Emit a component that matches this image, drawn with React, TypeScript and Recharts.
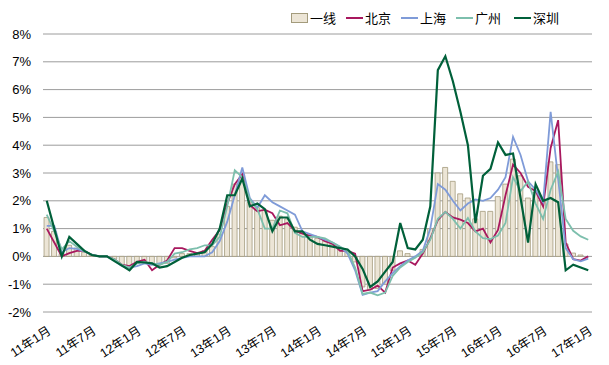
import React from 'react';
import { ComposedChart, Bar, Line, XAxis, YAxis, CartesianGrid } from 'recharts';

const months: string[] = [
  '11年1月','11年2月','11年3月','11年4月','11年5月','11年6月','11年7月','11年8月','11年9月','11年10月','11年11月','11年12月',
  '12年1月','12年2月','12年3月','12年4月','12年5月','12年6月','12年7月','12年8月','12年9月','12年10月','12年11月','12年12月',
  '13年1月','13年2月','13年3月','13年4月','13年5月','13年6月','13年7月','13年8月','13年9月','13年10月','13年11月','13年12月',
  '14年1月','14年2月','14年3月','14年4月','14年5月','14年6月','14年7月','14年8月','14年9月','14年10月','14年11月','14年12月',
  '15年1月','15年2月','15年3月','15年4月','15年5月','15年6月','15年7月','15年8月','15年9月','15年10月','15年11月','15年12月',
  '16年1月','16年2月','16年3月','16年4月','16年5月','16年6月','16年7月','16年8月','16年9月','16年10月','16年11月','16年12月',
  '17年1月',
];

const tier1: number[] = [
  1.4, 0.9, 0.1, 0.4, 0.3, 0.15, 0.05, 0.0, 0.0, -0.1, -0.3, -0.4,
  -0.25, -0.2, -0.3, -0.3, -0.25, -0.05, 0.1, 0.1, 0.1, 0.2, 0.35, 0.8,
  1.8, 2.6, 2.95, 1.95, 1.75, 1.65, 1.3, 1.45, 1.35, 1.05, 0.85, 0.7,
  0.65, 0.55, 0.45, 0.3, 0.2, -0.2, -1.1, -1.2, -1.15, -1.0, -0.5, 0.2,
  0.1, 0.0, 0.25, 1.0, 3.0, 3.2, 2.7, 2.25, 2.1, 1.35, 1.62, 1.62,
  2.15, 2.6, 3.5, 2.9, 2.1, 2.3, 2.0, 3.4, 3.3, 0.45, 0.12, 0.05,
  0.0,
];

const beijing: number[] = [
  1.0, 0.5, 0.0, 0.12, 0.2, 0.2, 0.05, 0.0, 0.0, -0.1, -0.3, -0.35,
  -0.2, -0.12, -0.5, -0.3, -0.15, 0.3, 0.3, 0.2, 0.12, 0.2, 0.6, 0.95,
  1.9, 2.6, 2.95, 1.85, 1.62, 1.68, 1.55, 1.12, 1.2, 0.92, 0.82, 0.75,
  0.7, 0.55, 0.45, 0.2, 0.2, 0.1, -1.25, -1.2, -1.05, -1.3, -0.4, -0.25,
  -0.15, -0.3, 0.1, 0.65, 1.3, 1.6, 1.4, 1.32, 1.2, 0.9, 1.0, 0.5,
  0.95, 2.2, 3.3, 3.0, 2.5, 2.35, 1.8, 3.9, 4.9, 0.5, -0.1, -0.15,
  0.0,
];

const shanghai: number[] = [
  1.1, 1.1, 0.15, 0.3, 0.27, 0.18, 0.06, 0.0, 0.0, -0.15, -0.35, -0.4,
  -0.35, -0.25, -0.3, -0.25, -0.2, -0.12, -0.05, 0.0, 0.0, 0.0, 0.15, 0.55,
  1.25, 2.2, 3.2, 2.1, 1.75, 2.2, 1.95, 1.8, 1.65, 1.5, 0.9, 0.8,
  0.7, 0.6, 0.5, 0.35, 0.1, -0.5, -1.38, -1.3, -1.25, -0.9, -0.6, -0.35,
  -0.15, 0.0, 0.2, 1.0, 2.6, 2.4, 2.0, 1.65, 1.9, 2.05, 2.0, 2.1,
  2.4, 2.85, 4.3, 3.65, 2.7, 2.4, 1.95, 5.2, 2.8, 0.3, -0.1, -0.18,
  -0.08,
];

const guangzhou: number[] = [
  1.5, 0.9, 0.25, 0.55, 0.35, 0.2, 0.05, 0.0, 0.0, -0.1, -0.3, -0.4,
  -0.25, -0.2, -0.25, -0.3, -0.2, 0.1, 0.15, 0.25, 0.3, 0.4, 0.4, 0.7,
  1.8, 3.1, 2.85, 2.05, 1.7, 1.0, 1.0, 1.65, 1.55, 0.85, 0.7, 0.7,
  0.7, 0.65, 0.5, 0.35, 0.2, -0.4, -1.35, -1.3, -1.4, -1.3, -0.7, -0.4,
  -0.2, -0.05, 0.15, 0.6, 1.35, 1.6, 1.35, 1.0, 1.38, 0.9, 0.66, 0.62,
  0.75, 1.2, 2.85, 2.35, 2.7, 1.9, 1.35, 2.4, 3.05, 1.35, 0.92, 0.72,
  0.6,
];

const shenzhen: number[] = [
  2.0, 1.0, 0.0, 0.7, 0.45, 0.2, 0.05, 0.0, 0.0, -0.17, -0.33, -0.5,
  -0.2, -0.22, -0.25, -0.4, -0.35, -0.2, -0.05, 0.05, 0.1, 0.15, 0.45, 1.0,
  2.2, 2.2, 2.8, 1.8, 1.9, 1.7, 0.9, 1.4, 1.4, 0.9, 0.9, 0.6,
  0.45, 0.4, 0.35, 0.3, 0.25, 0.0, -0.45, -1.1, -0.9, -0.55, -0.2, 1.2,
  0.3, 0.25, 0.6, 1.8, 6.7, 7.2, 6.3, 5.2, 4.0, 1.2, 2.9, 3.15,
  4.1, 3.65, 3.7, 2.1, 0.5, 2.6, 2.0, 2.1, 1.95, -0.5, -0.3, -0.4,
  -0.5,
];

const yTicks: number[] = [-2, -1, 0, 1, 2, 3, 4, 5, 6, 7, 8];

const seriesNames = { tier1: '一线', bj: '北京', sh: '上海', gz: '广州', sz: '深圳' };
const colors = { bj: '#A8185E', sh: '#7F9BD8', gz: '#7DBFAD', sz: '#00603A' };

const data = months.map((m, i) => ({
  month: m,
  tier1: tier1[i],
  bj: beijing[i],
  sh: shanghai[i],
  gz: guangzhou[i],
  sz: shenzhen[i],
}));

const FONT = '"Liberation Sans", Arial, "Noto Sans CJK SC", sans-serif';

const XTick = (props: any) => {
  const { x, y, payload } = props;
  const ax = x + 5;
  const ay = y + 21;
  return (
    <text
      x={ax}
      y={ay}
      transform={`rotate(-33 ${ax} ${ay})`}
      textAnchor="end"
      fontSize={12.5}
      fontFamily={FONT}
      fill="#000"
    >
      {payload.value}
    </text>
  );
};

const legendItems = [
  { key: 'tier1', x: 291, type: 'box', color: '' },
  { key: 'bj', x: 346, type: 'line', color: colors.bj },
  { key: 'sh', x: 401, type: 'line', color: colors.sh },
  { key: 'gz', x: 456, type: 'line', color: colors.gz },
  { key: 'sz', x: 514, type: 'line', color: colors.sz },
];

const LegendBox = () => (
  <div style={{ position: 'absolute', left: 0, top: 0, width: 609, height: 30 }}>
    {legendItems.map((it) => (
      <div key={it.key} style={{ position: 'absolute', left: it.x, top: 9, height: 18, display: 'flex', alignItems: 'center' }}>
        {it.type === 'box' ? (
          <div style={{ width: 15, height: 8, background: '#ECE5D6', border: '1px solid #A39B7C' }} />
        ) : (
          <div style={{ width: 17, height: 2, background: it.color }} />
        )}
        <span style={{ marginLeft: 2, fontSize: 13, fontFamily: '"Noto Sans CJK SC", sans-serif', color: '#000', lineHeight: '18px' }}>
          {(seriesNames as any)[it.key]}
        </span>
      </div>
    ))}
  </div>
);

export default function App() {
  return (
    <div style={{ position: 'absolute', left: 0, top: 0, width: 609, height: 365, background: '#fff', fontFamily: FONT }}>
      <LegendBox />
      <ComposedChart
        width={609}
        height={365}
        data={data}
        margin={{ top: 34, right: 17, bottom: 0, left: 0 }}
        barCategoryGap="14%"
      >
        <CartesianGrid vertical={false} stroke="#9C9C9C" strokeWidth={1} />
        <XAxis
          dataKey="month"
          interval={5}
          height={53}
          tickLine={false}
          axisLine={false}
          tickSize={0}
          tickMargin={0}
          tick={<XTick />}
        />
        <YAxis
          domain={[-2, 8]}
          ticks={yTicks}
          width={43}
          axisLine={false}
          tickLine={false}
          tickMargin={6}
          tickFormatter={(v: number) => `${v}%`}
          tick={{ fontSize: 13, fill: '#000', fontFamily: FONT }}
          interval={0}
        />
        <Bar dataKey="tier1" name={seriesNames.tier1} fill="#ECE5D6" stroke="#A39B7C" strokeWidth={0.8} isAnimationActive={false} />
        <Line type="linear" dataKey="bj" name={seriesNames.bj} stroke={colors.bj} strokeWidth={1.8} dot={false} isAnimationActive={false} />
        <Line type="linear" dataKey="sh" name={seriesNames.sh} stroke={colors.sh} strokeWidth={1.8} dot={false} isAnimationActive={false} />
        <Line type="linear" dataKey="gz" name={seriesNames.gz} stroke={colors.gz} strokeWidth={1.8} dot={false} isAnimationActive={false} />
        <Line type="linear" dataKey="sz" name={seriesNames.sz} stroke={colors.sz} strokeWidth={2.2} dot={false} isAnimationActive={false} />
      </ComposedChart>
    </div>
  );
}
